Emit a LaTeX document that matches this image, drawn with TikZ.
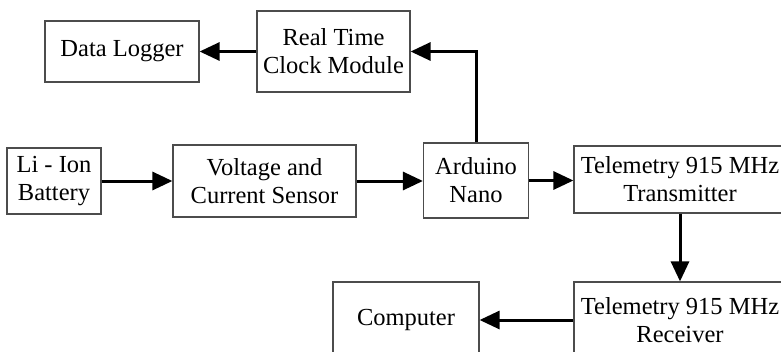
\documentclass[tikz,border=0pt]{standalone}
\usepackage{fontspec}
\setmainfont{Liberation Serif}
\usetikzlibrary{arrows.meta}
\begin{document}
\begin{tikzpicture}[x=1pt,y=-1pt,
  blk/.style={draw=black!70, line width=1.2pt, align=center, inner sep=0pt,
    font=\fontsize{24.5}{28}\selectfont},
  conn/.style={line width=3pt, -{Triangle[length=20pt,width=18pt]}}]
\useasboundingbox (0,0) rectangle (781,351);
\node[blk, minimum width=154pt, minimum height=61pt] (dl) at (122,51.5) {Data Logger};
\node[blk, minimum width=153pt, minimum height=81pt] (rtc) at (333.5,51.5) {Real Time\\Clock Module};
\node[blk, minimum width=94pt, minimum height=66pt] (bat) at (54,181) {Li - Ion\\Battery};
\node[blk, minimum width=183pt, minimum height=72pt] (vcs) at (264.5,181) {Voltage and\\Current Sensor};
\node[blk, minimum width=105pt, minimum height=75pt] (ard) at (476,180.5) {Arduino\\Nano};
\node[blk, minimum width=212pt, minimum height=67pt] (tx) at (680,179.5) {Telemetry 915 MHz\\Transmitter};
\node[blk, minimum width=212pt, minimum height=76pt] (rx) at (680,320) {Telemetry 915 MHz\\Receiver};
\node[blk, minimum width=146pt, minimum height=76pt] (pc) at (406,320) {Computer};
\draw[conn] (rtc.west) -- (dl.east);
\draw[conn] (ard.north) |- (rtc.east);
\draw[conn] (bat.east) -- (vcs.west);
\draw[conn] (vcs.east) -- (vcs.east -| ard.west);
\draw[conn] (ard.east) -- (ard.east -| tx.west);
\draw[conn] (tx.south) -- (rx.north);
\draw[conn] (rx.west) -- (pc.east);
\end{tikzpicture}
\end{document}
